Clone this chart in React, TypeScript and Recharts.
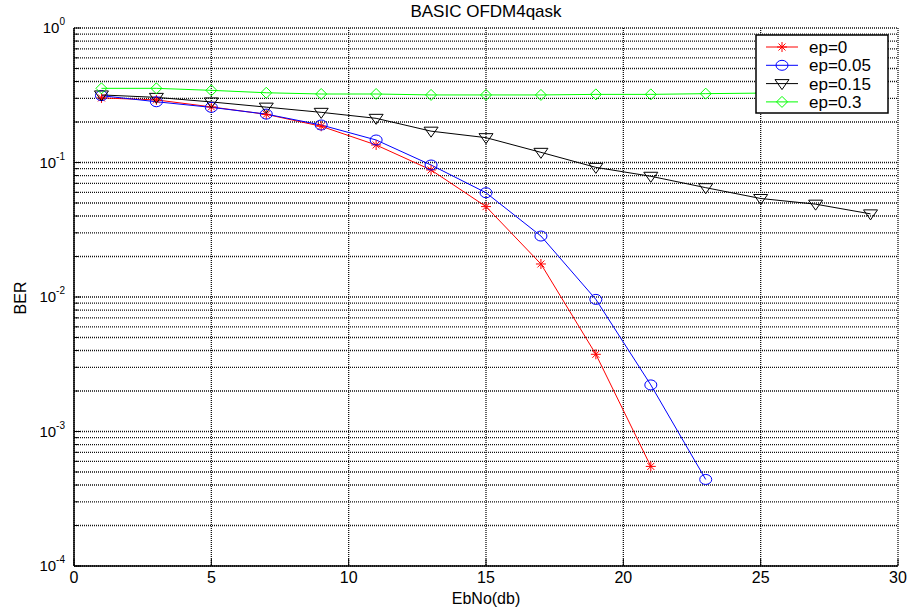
import { CartesianGrid, Line, LineChart, XAxis, YAxis } from "recharts";

const ebno = [1, 3, 5, 7, 9, 11, 13, 15, 17, 19, 21, 23, 25, 27, 29];
const ep0 = [0.302, 0.292, 0.259, 0.228, 0.186, 0.135, 0.088, 0.047, 0.0176, 0.00375, 0.00055];
const ep005 = [0.314, 0.283, 0.257, 0.229, 0.19, 0.147, 0.0958, 0.0596, 0.0284, 0.0096, 0.00222, 0.00044];
const ep015 = [0.318, 0.305, 0.282, 0.258, 0.236, 0.213, 0.171, 0.153, 0.119, 0.092, 0.079, 0.065, 0.054, 0.049, 0.0415];
const ep03 = [0.356, 0.356, 0.344, 0.33, 0.323, 0.323, 0.318, 0.318, 0.318, 0.321, 0.321, 0.325, 0.328, 0.33, 0.33];

const xTicks = [0, 5, 10, 15, 20, 25, 30];
const decades = [-4, -3, -2, -1];
const mantissas = [1, 2, 3, 4, 5, 6, 7, 8, 9];
const yTicks = [...decades.flatMap((d) => mantissas.map((m) => m * Math.pow(10, d))), 1];

const series = [
  { key: "ep0", name: "ep=0", color: "#ff0000", marker: "star" },
  { key: "ep005", name: "ep=0.05", color: "#0000ff", marker: "circle" },
  { key: "ep015", name: "ep=0.15", color: "#000000", marker: "tri" },
  { key: "ep03", name: "ep=0.3", color: "#00ff00", marker: "diamond" },
];

const data = ebno.map((x, i) => ({
  ebno: x,
  ep0: ep0[i],
  ep005: ep005[i],
  ep015: ep015[i],
  ep03: ep03[i],
}));

const FONT = "'Liberation Sans', Arial, Helvetica, sans-serif";

function Marker({ type, cx, cy, color }: { type: string; cx: number; cy: number; color: string }) {
  if (type === "star") {
    return (
      <g stroke={color} strokeWidth={1}>
        <line x1={cx - 5} x2={cx + 5} y1={cy} y2={cy} />
        <line x1={cx} x2={cx} y1={cy - 5} y2={cy + 5} />
        <line x1={cx - 3.5} x2={cx + 3.5} y1={cy - 3.5} y2={cy + 3.5} />
        <line x1={cx - 3.5} x2={cx + 3.5} y1={cy + 3.5} y2={cy - 3.5} />
      </g>
    );
  }
  if (type === "circle") {
    return <ellipse cx={cx} cy={cy} rx={6} ry={5} fill="none" stroke={color} strokeWidth={1} />;
  }
  if (type === "tri") {
    return (
      <path
        d={`M${cx - 7},${cy - 4} L${cx + 7},${cy - 4} L${cx},${cy + 6} Z`}
        fill="none"
        stroke={color}
        strokeWidth={1}
      />
    );
  }
  return (
    <path
      d={`M${cx},${cy - 5.5} L${cx + 5.5},${cy} L${cx},${cy + 5.5} L${cx - 5.5},${cy} Z`}
      fill="none"
      stroke={color}
      strokeWidth={1}
    />
  );
}

function isDecade(v: number) {
  const l = Math.log10(v);
  return Math.abs(l - Math.round(l)) < 1e-6;
}

function LeftTick(props: any) {
  const { x, y, payload } = props;
  const v = payload.value;
  const ax = x + 8;
  const dec = isDecade(v);
  return (
    <g>
      <line x1={ax} x2={ax + (dec ? 7 : 4)} y1={y} y2={y} stroke="#000" />
      {dec && (
        <text x={x - 1} y={y} dy={5} textAnchor="end" fontSize={15} fontFamily={FONT} fill="#000">
          10
          <tspan dy={-8} fontSize={10}>
            {Math.round(Math.log10(v))}
          </tspan>
        </text>
      )}
    </g>
  );
}

function RightTick(props: any) {
  const { x, y, payload } = props;
  const dec = isDecade(payload.value);
  return <line x1={x} x2={x - (dec ? 7 : 4)} y1={y} y2={y} stroke="#000" />;
}

function BottomTick(props: any) {
  const { x, y, payload } = props;
  const ay = y - 6;
  return (
    <g>
      <line x1={x} x2={x} y1={ay} y2={ay - 7} stroke="#000" />
      <text x={x} y={y} dy="0.71em" textAnchor="middle" fontSize={16} fontFamily={FONT} fill="#000">
        {payload.value}
      </text>
    </g>
  );
}

function TopTick(props: any) {
  const { x, y } = props;
  return <line x1={x} x2={x} y1={y} y2={y + 7} stroke="#000" />;
}

export default function App() {
  return (
    <div style={{ position: "absolute", left: 0, top: 0, width: 908, height: 610, background: "#fff" }}>
      <LineChart width={908} height={610} data={data} margin={{ top: 28, right: 10, left: 0, bottom: 0 }}>
        <CartesianGrid
          stroke="#111"
          strokeDasharray="1 1"
          strokeWidth={1.3}
          xAxisId="bottom"
          yAxisId="left"
          verticalValues={xTicks}
          horizontalValues={yTicks}
        />
        <XAxis
          xAxisId="bottom"
          dataKey="ebno"
          type="number"
          domain={[0, 30]}
          ticks={xTicks}
          interval={0}
          height={44}
          tickSize={0}
          tickMargin={6}
          tickLine={false}
          axisLine={{ stroke: "#000", strokeWidth: 1.5 }}
          tick={<BottomTick />}
        />
        <XAxis
          xAxisId="top"
          orientation="top"
          dataKey="ebno"
          type="number"
          domain={[0, 30]}
          ticks={xTicks}
          interval={0}
          height={0}
          tickSize={0}
          tickMargin={0}
          tickLine={false}
          axisLine={{ stroke: "#000", strokeWidth: 1.5 }}
          tick={<TopTick />}
        />
        <YAxis
          yAxisId="left"
          type="number"
          scale="log"
          domain={[0.0001, 1]}
          allowDataOverflow
          ticks={yTicks}
          interval={0}
          width={74}
          tickSize={0}
          tickMargin={8}
          tickLine={false}
          axisLine={{ stroke: "#000", strokeWidth: 1.5 }}
          tick={<LeftTick />}
        />
        <YAxis
          yAxisId="right"
          orientation="right"
          type="number"
          scale="log"
          domain={[0.0001, 1]}
          allowDataOverflow
          ticks={yTicks}
          interval={0}
          width={0}
          tickSize={0}
          tickMargin={0}
          tickLine={false}
          axisLine={{ stroke: "#000", strokeWidth: 1.5 }}
          tick={<RightTick />}
        />
        {series.map((s) => (
          <Line
            key={s.key}
            xAxisId="bottom"
            yAxisId="left"
            dataKey={s.key}
            name={s.name}
            stroke={s.color}
            strokeWidth={1}
            type="linear"
            isAnimationActive={false}
            dot={(p: any) =>
              p.cx == null || p.cy == null || p.value == null ? (
                <g key={`${s.key}-${p.index}`} />
              ) : (
                <Marker key={`${s.key}-${p.index}`} type={s.marker} cx={p.cx} cy={p.cy} color={s.color} />
              )
            }
            activeDot={false}
          />
        ))}
      </LineChart>

      <svg
        width={908}
        height={610}
        style={{ position: "absolute", left: 0, top: 0, pointerEvents: "none" }}
      >
        <text x={486} y={17} textAnchor="middle" fontSize={17} fontFamily={FONT} fill="#000">
          BASIC OFDM4qask
        </text>
        <text x={486} y={604} textAnchor="middle" fontSize={16} fontFamily={FONT} fill="#000">
          EbNo(db)
        </text>
        <text
          x={0}
          y={0}
          transform="translate(26,298) rotate(-90)"
          textAnchor="middle"
          fontSize={16}
          fontFamily={FONT}
          fill="#000"
        >
          BER
        </text>
        <g transform="translate(756,35)">
          <rect x={0} y={0} width={132} height={78} fill="#fff" stroke="#000" strokeWidth={1.5} />
          {series.map((s, i) => {
            const cy = 12 + i * 18.3;
            return (
              <g key={s.key}>
                <line x1={10} x2={42} y1={cy} y2={cy} stroke={s.color} strokeWidth={1} />
                <Marker type={s.marker} cx={26} cy={cy} color={s.color} />
                <text x={53} y={cy} dy={6} fontSize={17} fontFamily={FONT} fill="#000">
                  {s.name}
                </text>
              </g>
            );
          })}
        </g>
      </svg>
    </div>
  );
}
